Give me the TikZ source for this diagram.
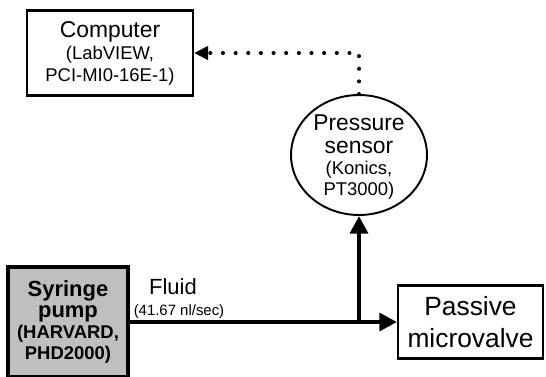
\documentclass[tikz,border=0pt]{standalone}
\usepackage{fontspec}
\setmainfont{Liberation Sans}
\usetikzlibrary{arrows.meta,shapes.geometric,positioning}

\newcommand{\bigtxt}{\fontsize{13}{15}\selectfont}
\newcommand{\smalltxt}{\fontsize{10.5}{12}\selectfont}

\begin{document}
\begin{tikzpicture}[x=0.02cm,y=-0.02cm,
  box/.style={draw,line width=1.2pt,align=center,inner sep=0pt,font=\smalltxt},
  flowarrow/.style={line width=2.5pt,-{Triangle[length=10pt,width=10pt]}},
  signal/.style={line width=2.3pt,line cap=round,dash pattern=on 0pt off 7.2pt,-{Triangle[length=8pt,width=7.5pt]}}]
  \useasboundingbox (0,0) rectangle (546,376);

  % blocks
  \node[box,minimum width=3.32cm,minimum height=1.7cm] (comp) at (110,53)
    {{\bigtxt Computer}\\[1pt](LabVIEW,\\PCI-MI0-16E-1)};
  \node[draw,ellipse,line width=1.1pt,minimum width=2.72cm,minimum height=2.4cm,inner sep=0pt] (sensor) at (359,155) {};
  \node[align=center,inner sep=0pt,font=\smalltxt] (sensortxt) at ([yshift=-0.04cm]sensor.center)
    {{\bigtxt Pressure}\\[1pt]{\bigtxt sensor}\\(Konics,\\PT3000)};
  \node[box,line width=2pt,fill=gray!50,minimum width=2.4cm,minimum height=2.2cm,font=\bfseries\smalltxt] (pump) at (68,322)
    {{\fontsize{12.5}{15}\selectfont Syringe}\\{\fontsize{12.5}{15}\selectfont pump}\\(HARVARD,\\PHD2000)};
  \node[box,minimum width=2.9cm,minimum height=1.46cm,font=\fontsize{15}{18}\selectfont] (valve) at (470.5,322)
    {Passive\\microvalve};

  % labels on the flow line
  \node[font=\fontsize{12.5}{15}\selectfont] (fluid) at (173,287) {Fluid};
  \node[font=\fontsize{8.5}{10}\selectfont] (rate) at (179,312) {(41.67 nl/sec)};

  % connections
  \coordinate (tee) at (sensor.south |- pump.east);
  \coordinate (bend) at (sensor.north |- comp.east);
  \draw[flowarrow] (pump.east) -- (valve.west);
  \draw[flowarrow] (tee) -- (sensor.south);
  \draw[signal] (sensor.north) -- (bend) -- (comp.east);
\end{tikzpicture}
\end{document}
